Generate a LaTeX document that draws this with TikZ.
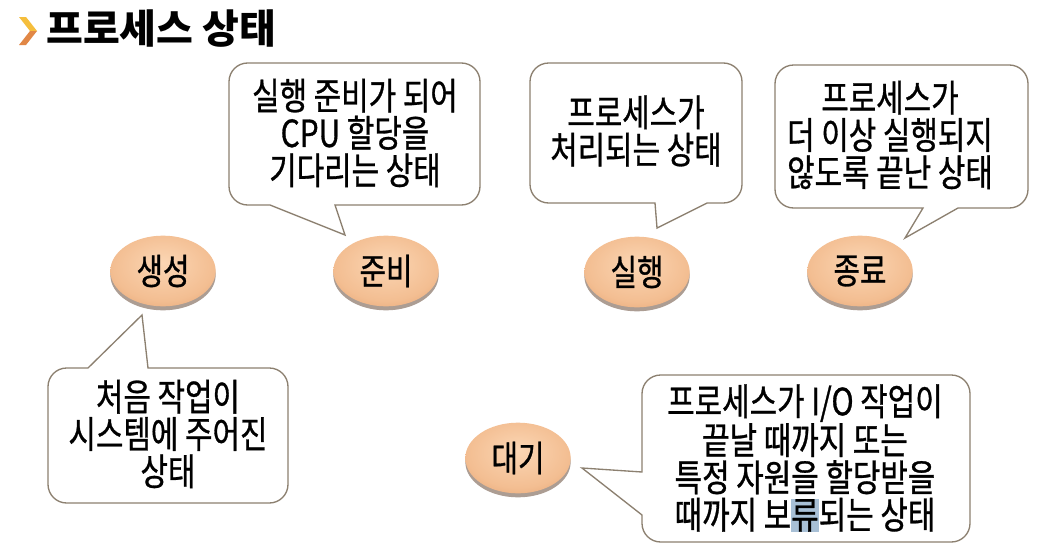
\documentclass[tikz,border=0pt]{standalone}
\usepackage{fontspec}
\usetikzlibrary{shapes.geometric,shadows}
\newfontfamily\kr[FakeStretch=0.8,FakeBold=0.8]{Noto Sans CJK KR}
\newfontfamily\krt{Noto Sans CJK KR}
\definecolor{edgec}{RGB}{140,128,112}
\definecolor{pl}{RGB}{251,214,180}
\definecolor{pm}{RGB}{243,190,146}
\definecolor{pd}{RGB}{222,150,98}
\definecolor{pe}{RGB}{190,112,66}
\definecolor{hl}{RGB}{168,192,214}
\definecolor{chy}{RGB}{245,190,60}
\definecolor{cho}{RGB}{225,135,70}
\definecolor{shadowc}{RGB}{90,60,40}
\pgfdeclareradialshading{peach}{\pgfpoint{0bp}{6bp}}{color(0bp)=(pl); color(24bp)=(pm); color(42bp)=(pd); color(50bp)=(pe)}
\tikzset{
  procstate/.style={ellipse, minimum width=79pt, minimum height=53pt, inner sep=0pt,
    shade, shading=peach,
    drop shadow={shadow xshift=0pt, shadow yshift=-3pt, fill=shadowc, opacity=0.5},
    font=\kr\fontsize{27}{30}\selectfont, text=black},
  bubble/.style={draw=edgec, line width=1pt, fill=white},
  btext/.style={align=center, font=\kr\fontsize{28}{28}\selectfont, inner sep=0pt, text=black},
}
\begin{document}
\begin{tikzpicture}[x=0.75pt,y=-0.75pt]
\useasboundingbox (0,0) rectangle (1044,546);
\fill[white] (0,0) rectangle (1044,546);

% title
\fill[chy] (19,17) -- (26,17) -- (37,31) -- (30,31) -- cycle;
\fill[cho] (30,31) -- (37,31) -- (26,45) -- (19,45) -- cycle;
\node[anchor=west, inner sep=0pt, font=\krt\bfseries\fontsize{30}{34}\selectfont] (title) at (46,29) {프로세스 상태};

% state ellipses
\node[procstate] (create) at (163,271) {생성};
\node[procstate] (ready)  at (386,271) {준비};
\node[procstate] (run)    at (637,272) {실행};
\node[procstate] (term)   at (860,271) {종료};
\node[procstate] (wait)   at (518,458) {대기};

% callout shapes
\draw[bubble] (350,63) [rounded corners=14pt] -- (480,63) -- (480,205) [sharp corners] -- (335,205) -- (345,235) -- (270,205) [rounded corners=14pt] -- (229,205) -- (229,63) -- cycle;
\draw[bubble] (636,63) [rounded corners=14pt] -- (742,63) -- (742,203) [sharp corners] -- (707,203) -- (657,228) -- (655,203) [rounded corners=14pt] -- (530,203) -- (530,63) -- cycle;
\draw[bubble] (900,65) [rounded corners=14pt] -- (1028,65) -- (1028,208) [sharp corners] -- (958,208) -- (905,238) -- (923,208) [rounded corners=14pt] -- (775,208) -- (775,65) -- cycle;
\draw[bubble] (168,503) [rounded corners=14pt] -- (48,503) -- (48,368) [sharp corners] -- (88,368) -- (142,315) -- (148,368) [rounded corners=14pt] -- (288,368) -- (288,503) -- cycle;
\draw[bubble] (800,375) [rounded corners=14pt] -- (970,375) -- (970,542) -- (642,542) [sharp corners] -- (642,515) -- (582,468) -- (642,472) [rounded corners=14pt] -- (642,375) -- cycle;

% callout texts
\node[btext] (readytxt) at (355,133) {실행 준비가 되어\\CPU 할당을\\기다리는 상태};
\node[btext] (runtxt) at (636,131) {프로세스가\\처리되는 상태};
\node[btext] (termtxt) at (890,135) {프로세스가\\더 이상 실행되지\\않도록 끝난 상태};
\node[btext] (createtxt) at (168,434) {처음 작업이\\시스템에 주어진\\상태};
\node[btext] (waittxt) at (805,458) {프로세스가 I/O 작업이\\끝날 때까지 또는\\특정 자원을 할당받을\\때까지 보{\setlength{\fboxsep}{0pt}\colorbox{hl}{류}}되는 상태};
\end{tikzpicture}
\end{document}
